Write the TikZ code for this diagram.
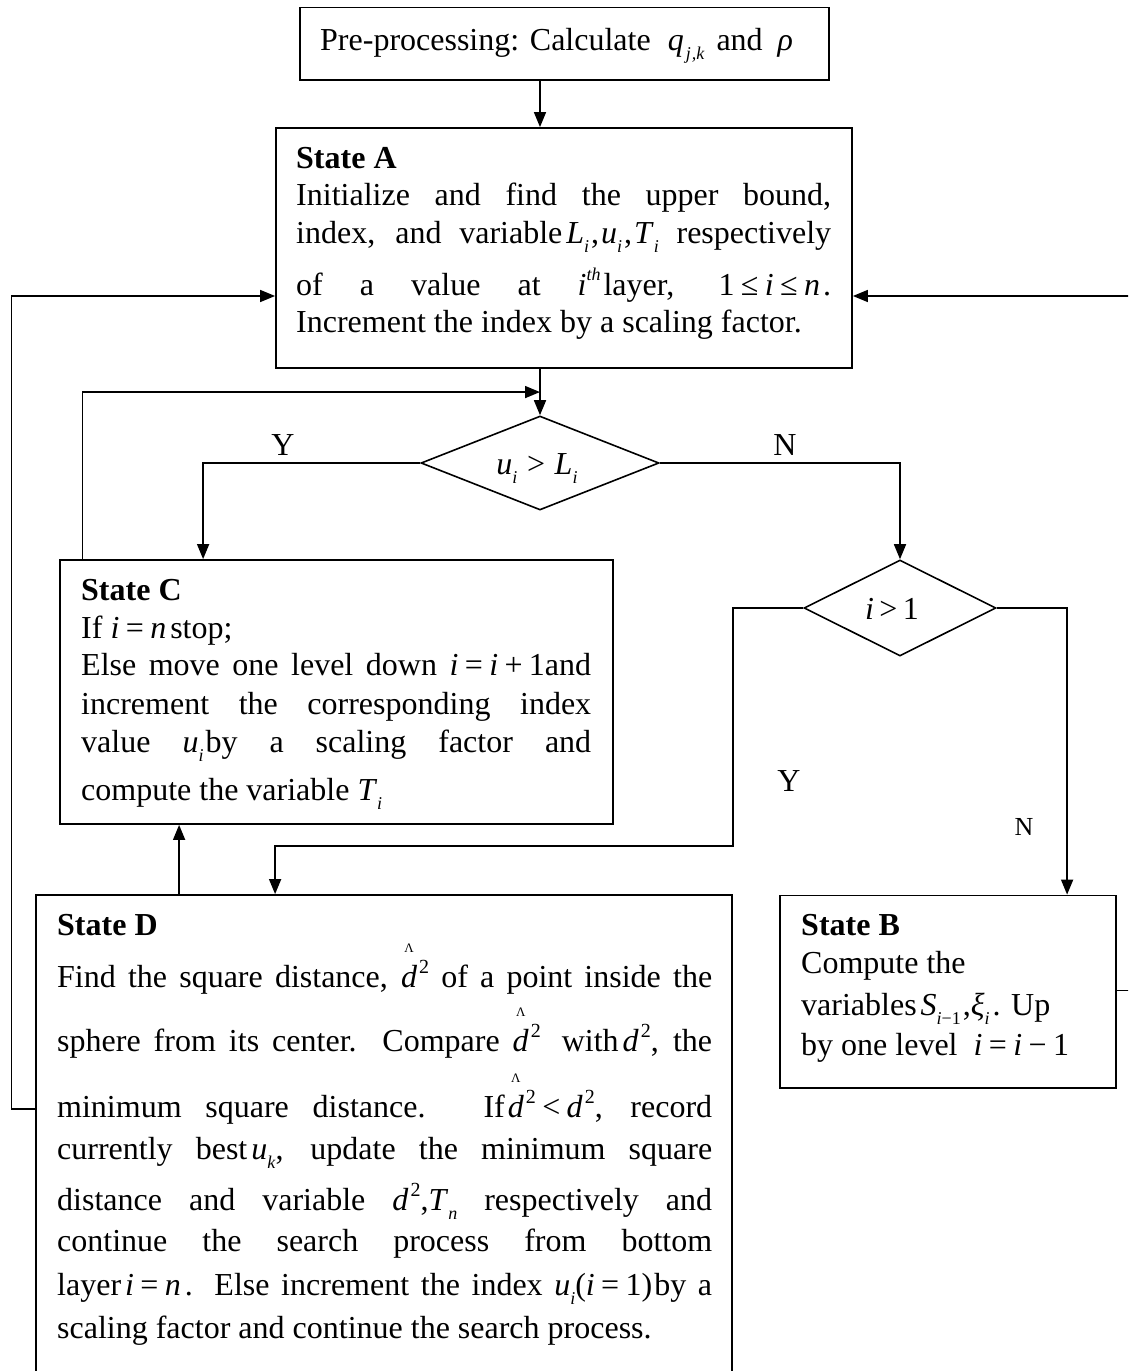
\documentclass[tikz,border=0pt]{standalone}
\usepackage{fontspec}
\setmainfont{Liberation Serif}
\usetikzlibrary{arrows.meta,shapes.geometric,calc}

% inline formula helpers (text fonts only)
\newcommand\mi[1]{\textit{#1}}
\newcommand\sub[1]{\raisebox{-0.3em}{\fontsize{18}{18}\selectfont\textit{#1}}}
\newcommand\sups[1]{\raisebox{0.45em}{\fontsize{18}{18}\selectfont #1}}
\newcommand\sq{\hspace{2pt}\raisebox{0.42em}{\fontsize{20}{20}\selectfont 2}}
\newcommand\rel[1]{\hspace{0.2em}#1\hspace{0.2em}}
\newcommand\dhat{\ooalign{\mi{d}\cr\hidewidth\raisebox{1.08em}{\fontsize{13}{13}\selectfont Λ}\hidewidth\cr}}
% justified single line and a block with explicit baseline gaps
\newcommand\jl[1]{\makebox[\linewidth][s]{#1}}
\newcommand\textblock[2]{\parbox[t]{#1}{\baselineskip=0pt\lineskip=0pt\lineskiplimit=-\maxdimen #2}}

\begin{document}
\begin{tikzpicture}[x=1pt,y=-1pt,
  box/.style={draw, line width=1.8pt, rectangle, inner sep=0pt},
  dia/.style={draw, line width=1.6pt, diamond, inner sep=0pt},
  arr/.style={line width=1.6pt, -{Triangle[length=15pt,width=12pt]}},
  txt/.style={anchor=base west, inner sep=0pt, font=\fontsize{32}{38}\selectfont},
  lab/.style={anchor=base, inner sep=0pt, font=\fontsize{32}{38}\selectfont}]

\useasboundingbox (0,0) rectangle (1128,1371);
\clip (0,0) rectangle (1128,1371);
\fill[white] (0,0) rectangle (1128,1371);

% boxes and decisions
\node[box, minimum width=529pt, minimum height=72.5pt] (pre) at (564.5,43.75) {};
\node[box, minimum width=576pt, minimum height=240pt] (sA) at (564,248) {};
\node[dia, minimum width=238pt, minimum height=94pt] (d1) at (540,463) {};
\node[box, minimum width=553pt, minimum height=264pt] (sC) at (336.5,692) {};
\node[dia, minimum width=192pt, minimum height=96pt] (d2) at (900,608) {};
\node[box, minimum width=696pt, minimum height=505pt] (sD) at (384,1147.5) {};
\node[box, minimum width=336pt, minimum height=192.5pt] (sB) at (948,991.75) {};

% texts
\node[txt] (tpre) at (320,50) {Pre-processing: Calculate\hspace{17pt}\mi{q}\hspace{2pt}\sub{j\hspace{1pt},k}\hspace{12pt}and\hspace{15pt}\mi{ρ}};

\node[txt] (tA) at (296,168) {\textblock{535pt}{%
\textbf{State A}\\[37pt]
\jl{Initialize and find the upper bound,}\\[38pt]
\jl{index, and variable\hspace{4pt}\mi{L}\sub{i}\hspace{2pt},\hspace{2pt}\mi{u}\sub{i}\hspace{2pt},\hspace{2pt}\mi{T}\sub{i} respectively}\\[52pt]
\jl{of a value at \mi{i}\sups{\mi{th}}\hspace{3pt}layer, 1\rel{≤}\mi{i}\rel{≤}\mi{n}\hspace{3pt}.}\\[37pt]
Increment the index by a scaling factor.}};

\node[txt] (tC) at (81,600) {\textblock{510pt}{%
\textbf{State C}\\[38pt]
If \mi{i}\rel{=}\mi{n}\hspace{4pt}stop;\\[37pt]
\jl{Else move one level down \mi{i}\rel{=}\mi{i}\rel{+}1and}\\[39pt]
\jl{increment the corresponding index}\\[38pt]
\jl{value \mi{u}\sub{i}\hspace{2pt}by a scaling factor and}\\[48pt]
compute the variable \mi{T}\sub{i}}};

\node[txt] (tD) at (57,935) {\textblock{655pt}{%
\textbf{State D}\\[52pt]
\jl{Find the square distance, \dhat\sq{} of a point inside the}\\[64pt]
\jl{sphere from its center. Compare \dhat\sq\hspace{8pt} with\hspace{4pt}\mi{d}\sq, the}\\[66pt]
\jl{minimum square distance. If\hspace{3pt}\dhat\sq\rel{<}\mi{d}\sq, record}\\[42pt]
\jl{currently best\hspace{4pt}\mi{u}\sub{k}, update the minimum square}\\[51pt]
\jl{distance and variable \mi{d}\sq,\mi{T}\sub{n} respectively and}\\[41pt]
\jl{continue the search process from bottom}\\[44pt]
\jl{layer\hspace{4pt}\mi{i}\rel{=}\mi{n}\hspace{4pt}. Else increment the index \mi{u}\sub{i}(\mi{i}\rel{=}1)\hspace{2pt}by a}\\[43pt]
scaling factor and continue the search process.}};

\node[txt] (tB) at (801,935) {\textblock{310pt}{%
\textbf{State B}\\[38pt]
Compute the\\[42pt]
variables\hspace{4pt}\mi{S}\sub{i\textup{−1}}\hspace{2pt},\mi{ξ}\sub{i}\hspace{3pt}. Up\\[40pt]
by one level \ \mi{i}\rel{=}\mi{i}\rel{−}1}};

\node[lab] (t1) at (537,474) {\mi{u}\sub{i}\hspace{0.3em}>\hspace{0.3em}\mi{L}\sub{i}};
\node[lab] (t2) at (892,619) {\mi{i}\,>\,1};

\node[lab] (y1) at (283,455) {Y};
\node[lab] (n1) at (785,455) {N};
\node[lab] (y2) at (789,791) {Y};
\node[lab, font=\fontsize{26}{30}\selectfont] (n2) at (1024,835) {N};

% connectors
\draw[arr] (pre.south -| d1.north) -- (sA.north -| d1.north);
\draw[arr] (sA.south -| d1.north) -- (d1.north);
\coordinate (cj) at ($(sA.south -| d1.north)!0.5!(d1.north)$);
\draw[arr] ([xshift=23.3pt]sC.north west) |- (cj);
\draw[arr] (d1.west) -| ([xshift=144pt]sC.north west);
\draw[arr] (d1.east) -| (d2.north);
\draw[arr] (d2.west) -| ([yshift=48pt]sD.north east) -| ([xshift=240pt]sD.north west);
\draw[arr] (d2.east) -| ([xshift=288pt]sB.north west);
\draw[arr] ([xshift=144pt]sD.north west) -- ([xshift=144pt]sD.north west |- sC.south);
\coordinate (inL) at ([yshift=-48pt]sA.west);
\coordinate (inR) at ([yshift=-48pt]sA.east);
\draw[arr] ([yshift=-215pt]sD.north west) -| ([xshift=-23.7pt]sD.north west |- inL) -- (inL);
\draw[arr] ([yshift=-96pt]sB.north east) -- ++(24pt,0) |- (inR);
\end{tikzpicture}
\end{document}
